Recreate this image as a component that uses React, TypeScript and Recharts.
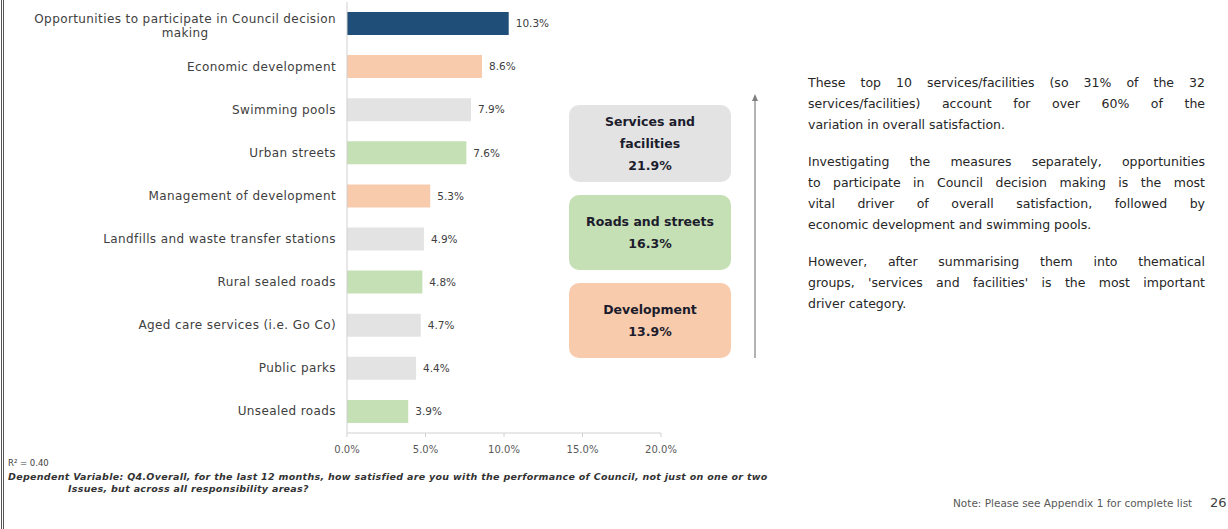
import React from "react";
import { Bar, BarChart, Cell, LabelList, XAxis, YAxis } from "recharts";

// drivers of overall satisfaction, top 10
const drivers = [
  "Opportunities to participate in Council decision making",
  "Economic development",
  "Swimming pools",
  "Urban streets",
  "Management of development",
  "Landfills and waste transfer stations",
  "Rural sealed roads",
  "Aged care services (i.e. Go Co)",
  "Public parks",
  "Unsealed roads",
];
const importance = [10.3, 8.6, 7.9, 7.6, 5.3, 4.9, 4.8, 4.7, 4.4, 3.9];
const driverGroup = ["council", "development", "services", "roads", "development", "services", "roads", "services", "services", "roads"];
const xTicks = [0, 5, 10, 15, 20];

const groupNames = ["Services and facilities", "Roads and streets", "Development"];
const groupKeys = ["services", "roads", "development"];
const groupTotals = [21.9, 16.3, 13.9];

const groupColors: Record<string, string> = {
  council: "#1f4e79",
  development: "#f8cbad",
  services: "#e3e3e3",
  roads: "#c5e0b4",
};

const paragraphs = [
  [
    "These top 10 services/facilities (so 31% of the 32",
    "services/facilities) account for over 60% of the",
    "variation in overall satisfaction.",
  ],
  [
    "Investigating the measures separately, opportunities",
    "to participate in Council decision making is the most",
    "vital driver of overall satisfaction, followed by",
    "economic development and swimming pools.",
  ],
  [
    "However, after summarising them into thematical",
    "groups, 'services and facilities' is the most important",
    "driver category.",
  ],
];

const chartData = drivers.map((name, i) => ({ name, value: importance[i], group: driverGroup[i] }));

const FONT = "'DejaVu Sans', sans-serif";
const LABEL_SPACING = 0.4;

let ctx: CanvasRenderingContext2D | null = null;
function textWidth(text: string, font: string) {
  if (!ctx) ctx = document.createElement("canvas").getContext("2d");
  if (!ctx) return text.length * 6;
  ctx.font = font;
  return ctx.measureText(text).width + text.length * LABEL_SPACING;
}

function splitLabel(label: string, max: number) {
  if (label.length <= max) return [label];
  const cut = label.lastIndexOf(" ", max);
  return [label.slice(0, cut), label.slice(cut + 1)];
}

const CategoryTick = (props: any) => {
  const { x, y, payload } = props;
  const lines = splitLabel(payload.value, 48);
  const style = { fontFamily: FONT, fontSize: 12, fill: "#404040", letterSpacing: LABEL_SPACING };
  if (lines.length === 1) {
    return (
      <text x={x} y={y} dy={4} textAnchor="end" style={style}>
        {lines[0]}
      </text>
    );
  }
  const w = textWidth(lines[0], `12px ${FONT}`);
  return (
    <g>
      <text x={x} y={y - 5} dy={4} textAnchor="end" style={style}>
        {lines[0]}
      </text>
      <text x={x - w / 2} y={y + 9} dy={4} textAnchor="middle" style={style}>
        {lines[1]}
      </text>
    </g>
  );
};

export default function App() {
  return (
    <div style={{ position: "absolute", left: 0, top: 0, width: 1228, height: 529, background: "#fff", overflow: "hidden", fontFamily: FONT }}>
      <div style={{ position: "absolute", left: 1, top: 0, width: 1, height: 529, borderLeft: "1px solid #555", borderRight: "1px solid #555" }} />

      <div style={{ position: "absolute", left: 0, top: 0 }}>
        <BarChart width={680} height={470} data={chartData} layout="vertical" margin={{ top: 2, right: 19, bottom: 0, left: 0 }}>
          <XAxis
            type="number"
            domain={[0, 20]}
            ticks={xTicks}
            tickFormatter={(v: number) => `${v.toFixed(1)}%`}
            axisLine={{ stroke: "#d0d0d0" }}
            tickLine={{ stroke: "#d0d0d0" }}
            tickSize={4}
            tickMargin={9}
            height={37}
            tick={{ fontSize: 10, fill: "#595959", fontFamily: FONT }}
          />
          <YAxis
            type="category"
            dataKey="name"
            width={347}
            axisLine={{ stroke: "#d0d0d0" }}
            tickLine={false}
            tickSize={6}
            tickMargin={5}
            interval={0}
            tick={<CategoryTick />}
          />
          <Bar dataKey="value" barSize={23} isAnimationActive={false}>
            {chartData.map((d, i) => (
              <Cell key={i} fill={groupColors[d.group]} />
            ))}
            <LabelList
              dataKey="value"
              position="right"
              offset={7}
              formatter={(v: any) => `${Number(v).toFixed(1)}%`}
              style={{ fontSize: 10.5, fill: "#404040", fontFamily: FONT }}
            />
          </Bar>
        </BarChart>
      </div>

      {groupNames.map((name, i) => {
        const tops = [105, 195, 283];
        const heights = [77, 75, 75];
        return (
          <div
            key={name}
            style={{
              position: "absolute",
              left: 569,
              top: tops[i],
              width: 162,
              height: heights[i],
              borderRadius: 10,
              background: groupColors[groupKeys[i]],
              display: "flex",
              flexDirection: "column",
              justifyContent: "center",
              alignItems: "center",
              textAlign: "center",
              fontWeight: 700,
              fontSize: 12.5,
              lineHeight: "22px",
              color: "#1c1c2c",
              padding: "0 4px",
              boxSizing: "border-box",
            }}
          >
            <div style={{ maxWidth: name.length > 18 ? 110 : 160 }}>{name}</div>
            <div>{groupTotals[i].toFixed(1)}%</div>
          </div>
        );
      })}

      <svg style={{ position: "absolute", left: 748, top: 90 }} width={14} height={270}>
        <line x1={7} y1={8} x2={7} y2={268} stroke="#9a9a9a" strokeWidth={1.5} />
        <polygon points="7,4 4,11 10,11" fill="#808080" />
      </svg>

      <div style={{ position: "absolute", left: 808, top: 72, width: 397, fontSize: 12.5, lineHeight: "21px", color: "#262626" }}>
        {paragraphs.map((lines, p) => (
          <div key={p} style={{ marginBottom: 16 }}>
            {lines.map((line, i) => (
              <div
                key={i}
                style={{ textAlign: "justify", textAlignLast: i < lines.length - 1 ? "justify" : "left", whiteSpace: "nowrap" }}
              >
                {line}
              </div>
            ))}
          </div>
        ))}
      </div>

      <div style={{ position: "absolute", left: 8, top: 458, fontSize: 8.5, color: "#404040" }}>R² = 0.40</div>
      <div style={{ position: "absolute", left: 8, top: 471, fontSize: 9.5, lineHeight: "12px", fontStyle: "italic", fontWeight: 600, letterSpacing: 0.3, color: "#333" }}>
        <div>
          Dependent Variable: Q4.Overall, for the last 12 months, how satisfied are you with the performance of Council, not just on one or two
        </div>
        <div style={{ paddingLeft: 60 }}>Issues, but across all responsibility areas?</div>
      </div>

      <div style={{ position: "absolute", left: 953, top: 497, fontSize: 10.5, color: "#595959", whiteSpace: "nowrap" }}>
        Note: Please see Appendix 1 for complete list
      </div>
      <div style={{ position: "absolute", left: 1210, top: 495, fontSize: 13, color: "#404040" }}>26</div>
    </div>
  );
}
